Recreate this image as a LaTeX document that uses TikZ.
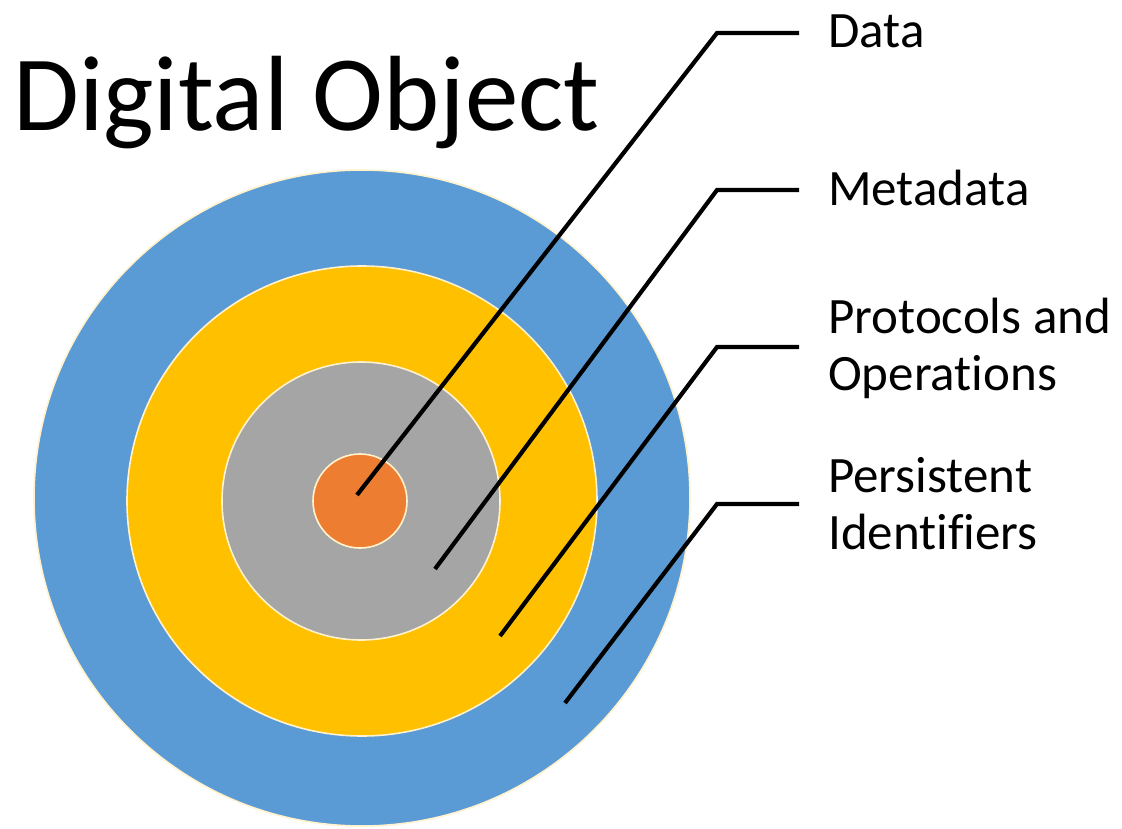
\documentclass[tikz,border=0pt]{standalone}
\usepackage{fontspec}
\setmainfont[Ligatures=NoCommon,RawFeature={-liga;-clig}]{Carlito}
\definecolor{ringblue}{HTML}{5B9BD5}
\definecolor{ringyellow}{HTML}{FFC000}
\definecolor{ringgray}{HTML}{A5A5A5}
\definecolor{ringorange}{HTML}{ED7D31}
\definecolor{ringedge}{HTML}{FFF2CC}
\begin{document}
\begin{tikzpicture}[x=1pt,y=-1pt,
  ring/.style={circle,draw=ringedge,line width=1.6pt,inner sep=0pt},
  leader/.style={draw=black,line width=4.2pt,line join=miter},
  lbl/.style={font=\fontsize{51}{57}\selectfont,inner sep=0pt,anchor=base west,align=left},
  ttl/.style={font=\fontsize{107}{112}\selectfont,inner sep=0pt,anchor=base west}]
\useasboundingbox (0,0) rectangle (1122,829);
\fill[white] (0,0) rectangle (1122,829);
% rings
\node[ring,fill=ringblue,minimum size=656pt] (pid) at (362,498) {};
\node[ring,fill=ringyellow,minimum size=470pt] (proto) at (362,501) {};
\node[ring,fill=ringgray,minimum size=278pt] (meta) at (361,501) {};
\node[ring,fill=ringorange,minimum size=94pt] (data) at (360,501) {};
% title
\node[ttl] (title) at (13,131) {Digital Object};
% labels
\node[lbl] (ldata) at (828,48) {Data};
\node[lbl] (lmeta) at (828,206) {Metadata};
\node[lbl] (lproto) at (828,390) {Protocols and\\Operations};
\node[lbl] (lpid) at (828,549) {Persistent\\Identifiers};
% leader points
\coordinate (pdata) at (357,495);
\coordinate (kdata) at (717,33);
\coordinate (edata) at (799,33);
\coordinate (pmeta) at (435,569);
\coordinate (kmeta) at (717,190);
\coordinate (emeta) at (799,190);
\coordinate (pproto) at (500,636);
\coordinate (kproto) at (717,347);
\coordinate (eproto) at (799,347);
\coordinate (ppid) at (565,703);
\coordinate (kpid) at (717,504);
\coordinate (epid) at (799,504);
\draw[leader] (pdata) -- (kdata) -- (edata);
\draw[leader] (pmeta) -- (kmeta) -- (emeta);
\draw[leader] (pproto) -- (kproto) -- (eproto);
\draw[leader] (ppid) -- (kpid) -- (epid);
\end{tikzpicture}
\end{document}
